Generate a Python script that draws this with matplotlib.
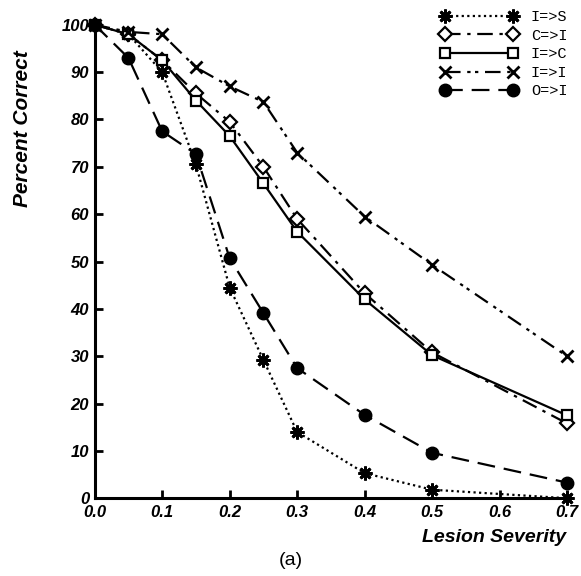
import matplotlib
matplotlib.use('Agg')
import matplotlib.pyplot as plt

severity = [0.0, 0.05, 0.1, 0.15, 0.2, 0.25, 0.3, 0.4, 0.5, 0.7]
i_to_s = [100, 98, 90, 70.5, 44.5, 29.2, 14, 5.3, 1.8, 0]
c_to_i = [100, 98, 92.5, 85.5, 79.5, 70, 59, 43.3, 30.8, 15.8]
i_to_c = [100, 98, 92.5, 84, 76.5, 66.5, 56.3, 42, 30.2, 17.5]
i_to_i = [100, 98.5, 98, 91, 87, 83.7, 73, 59.5, 49.3, 30]
o_to_i = [100, 93, 77.5, 72.7, 50.7, 39.1, 27.5, 17.6, 9.6, 3.3]

x_ticks = [0.0, 0.1, 0.2, 0.3, 0.4, 0.5, 0.6, 0.7]
y_ticks = [0, 10, 20, 30, 40, 50, 60, 70, 80, 90, 100]

fig = plt.figure(figsize=(5.81, 5.76), dpi=100)
ax = fig.add_axes([0.163, 0.135, 0.813, 0.822])

lw = 1.6
ax.plot(severity, i_to_s, color='black', lw=lw, ls=(0, (1, 1.5)),
        marker=(8, 2, 0), ms=10, mew=2, label='I=>S', clip_on=False)
ax.plot(severity, c_to_i, color='black', lw=lw, ls=(0, (7, 3, 1.5, 3)),
        marker='D', ms=7, mfc='white', mew=1.6, label='C=>I', clip_on=False)
ax.plot(severity, i_to_c, color='black', lw=lw, ls='-',
        marker='s', ms=7, mfc='white', mew=1.6, label='I=>C', clip_on=False)
ax.plot(severity, i_to_i, color='black', lw=lw, ls=(0, (7, 3, 1.5, 2, 1.5, 3)),
        marker='x', ms=9, mew=2, label='I=>I', clip_on=False)
ax.plot(severity, o_to_i, color='black', lw=lw, ls=(0, (8, 4)),
        marker='o', ms=9, label='O=>I', clip_on=False)

ax.set_xlim(0, 0.7)
ax.set_ylim(0, 100)
ax.spines['top'].set_visible(False)
ax.spines['right'].set_visible(False)
ax.spines['left'].set_linewidth(2.2)
ax.spines['bottom'].set_linewidth(2.2)

ax.set_xticks(x_ticks)
ax.set_xticklabels(['%.1f' % t for t in x_ticks])
ax.set_yticks(y_ticks)
ax.tick_params(direction='in', length=6, width=2, labelsize=12)
ax.tick_params(axis='x', pad=5)
ax.tick_params(axis='y', pad=4)
for lab in ax.get_xticklabels() + ax.get_yticklabels():
    lab.set_fontweight('bold')
    lab.set_fontstyle('italic')
    lab.set_family('Liberation Sans')

fig.text(0.038, 0.777, 'Percent Correct', rotation=90, ha='center', va='center',
         fontsize=15, fontweight='bold', fontstyle='italic', family='Liberation Sans')
fig.text(0.975, 0.067, 'Lesion Severity', ha='right', va='center',
         fontsize=14, fontweight='bold', fontstyle='italic', family='Liberation Sans')
fig.text(0.5, 0.027, '(a)', ha='center', va='center', fontsize=14, family='Liberation Sans')

ax.legend(loc='upper right', bbox_to_anchor=(1.03, 1.06), frameon=False,
          numpoints=2, handlelength=5.0, labelspacing=0.3, handletextpad=0.9,
          prop={'family': 'Liberation Mono', 'size': 11})

fig.savefig('out.png', dpi=100)
